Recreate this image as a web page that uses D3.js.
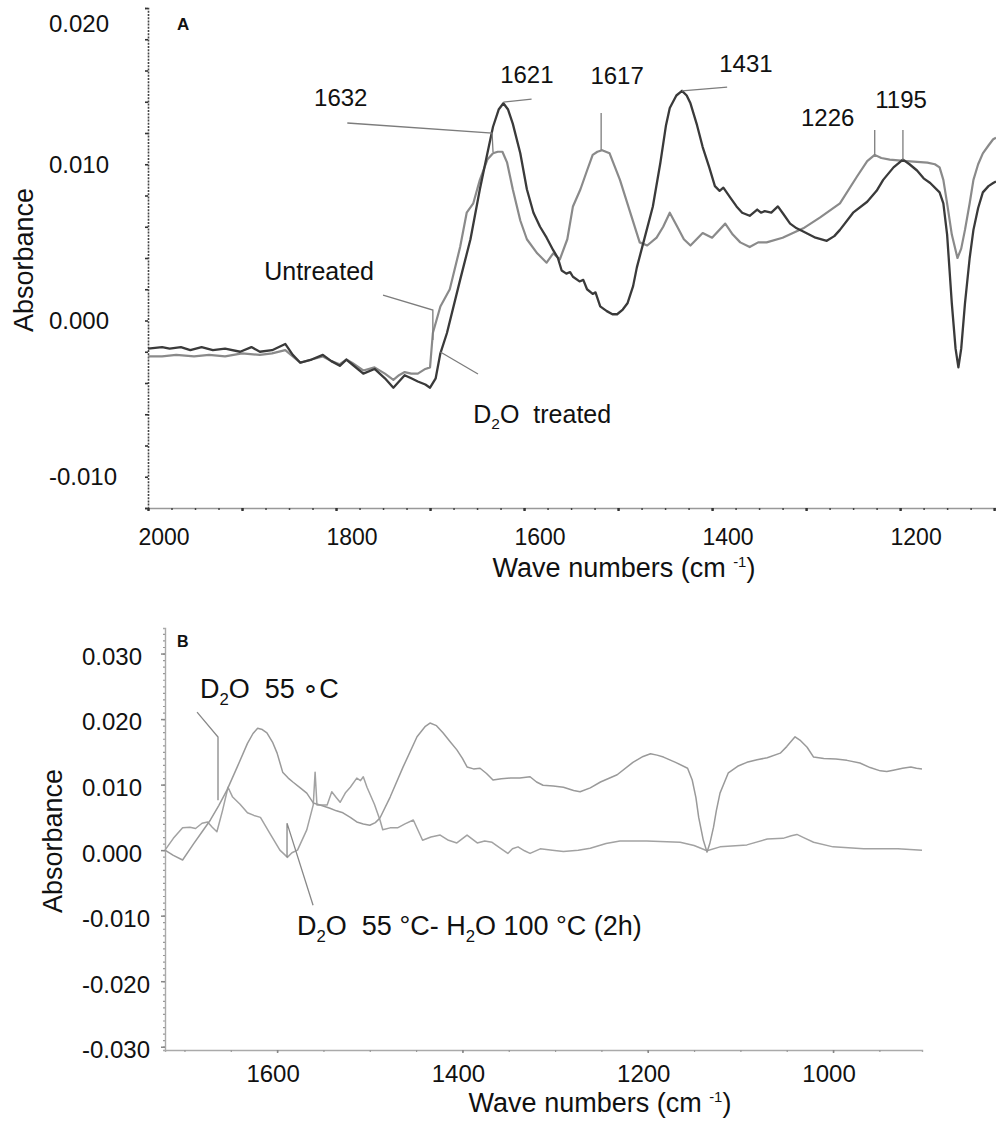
<!DOCTYPE html>
<html>
<head>
<meta charset="utf-8">
<script src="https://cdn.jsdelivr.net/npm/d3@7"></script>
<style>
  body { margin: 0; background: #fff; }
  text { font-family: "Liberation Sans", Arial, sans-serif; fill: #111; white-space: pre; }
</style>
</head>
<body>
<svg id="chart" width="996" height="1121"></svg>
<script>
// ---- panel A data: [wavenumber (cm-1), absorbance] ----
var d2oTreatedA = [[2000,-0.0018],[1985,-0.0017],[1977,-0.0018],[1965,-0.0017],[1955,-0.0019],[1943,-0.0017],[1931,-0.0019],[1918,-0.0018],[1902,-0.0020],[1890,-0.0017],[1881,-0.0020],[1868,-0.0019],[1854,-0.0015],[1846,-0.0022],[1838,-0.0027],[1826,-0.0025],[1814,-0.0022],[1805,-0.0026],[1796,-0.0029],[1789,-0.0025],[1783,-0.0028],[1771,-0.0034],[1759,-0.0031],[1748,-0.0037],[1739,-0.0043],[1733,-0.0039],[1727,-0.0035],[1720,-0.0037],[1713,-0.0039],[1705,-0.0041],[1700,-0.0043],[1694,-0.0037],[1689,-0.0021],[1682,-0.0008],[1668,0.0026],[1657,0.0052],[1647,0.0084],[1639,0.0107],[1633,0.0124],[1627,0.0135],[1622,0.0139],[1617,0.0135],[1612,0.0126],[1604,0.0107],[1597,0.0084],[1590,0.0069],[1583,0.0060],[1576,0.0053],[1569,0.0045],[1564,0.0040],[1560,0.0032],[1555,0.0030],[1551,0.0031],[1548,0.0028],[1541,0.0025],[1537,0.0026],[1533,0.0020],[1527,0.0017],[1524,0.0018],[1519,0.0009],[1512,0.0006],[1506,0.0004],[1501,0.0004],[1495,0.0007],[1490,0.0011],[1484,0.0022],[1480,0.0034],[1473,0.0050],[1463,0.0073],[1455,0.0101],[1449,0.0125],[1445,0.0136],[1438,0.0144],[1432,0.0147],[1427,0.0144],[1423,0.0139],[1416,0.0125],[1410,0.0111],[1403,0.0098],[1397,0.0086],[1392,0.0083],[1388,0.0085],[1381,0.0079],[1374,0.0073],[1368,0.0069],[1360,0.0067],[1352,0.0071],[1348,0.0069],[1344,0.0070],[1337,0.0069],[1330,0.0073],[1324,0.0068],[1317,0.0062],[1310,0.0059],[1303,0.0057],[1290,0.0053],[1278,0.0051],[1270,0.0054],[1264,0.0058],[1250,0.0069],[1235,0.0076],[1225,0.0083],[1218,0.0090],[1207,0.0098],[1197,0.0103],[1190,0.0100],[1182,0.0096],[1175,0.0091],[1168,0.0088],[1158,0.0082],[1154,0.0075],[1150,0.0055],[1145,0.0011],[1141,-0.0018],[1138,-0.0030],[1135,-0.0018],[1131,0.0011],[1126,0.0040],[1122,0.0058],[1117,0.0072],[1112,0.0082],[1106,0.0086],[1101,0.0088],[1098,0.0089]];

var untreatedA = [[2000,-0.0023],[1985,-0.0023],[1970,-0.0022],[1951,-0.0023],[1935,-0.0022],[1918,-0.0023],[1900,-0.0021],[1881,-0.0022],[1868,-0.0021],[1854,-0.0019],[1846,-0.0023],[1838,-0.0027],[1826,-0.0025],[1814,-0.0023],[1805,-0.0026],[1796,-0.0028],[1789,-0.0025],[1783,-0.0027],[1771,-0.0032],[1759,-0.0030],[1748,-0.0034],[1739,-0.0038],[1733,-0.0035],[1727,-0.0033],[1720,-0.0034],[1713,-0.0034],[1705,-0.0031],[1700,-0.0030],[1697,-0.0008],[1689,0.0009],[1679,0.0020],[1668,0.0047],[1661,0.0069],[1654,0.0075],[1647,0.0090],[1639,0.0103],[1633,0.0107],[1628,0.0108],[1623,0.0108],[1618,0.0101],[1612,0.0084],[1604,0.0064],[1597,0.0052],[1586,0.0043],[1576,0.0037],[1569,0.0043],[1562,0.0039],[1554,0.0052],[1548,0.0073],[1540,0.0084],[1533,0.0096],[1527,0.0106],[1522,0.0108],[1517,0.0109],[1509,0.0107],[1498,0.0090],[1487,0.0069],[1477,0.0050],[1469,0.0048],[1459,0.0053],[1452,0.0060],[1445,0.0069],[1437,0.0060],[1430,0.0052],[1423,0.0048],[1410,0.0056],[1400,0.0053],[1386,0.0062],[1378,0.0055],[1370,0.0050],[1360,0.0047],[1351,0.0050],[1342,0.0050],[1325,0.0053],[1303,0.0059],[1285,0.0066],[1264,0.0075],[1246,0.0092],[1235,0.0102],[1227,0.0106],[1220,0.0104],[1211,0.0103],[1193,0.0102],[1171,0.0101],[1163,0.0100],[1158,0.0098],[1154,0.0090],[1150,0.0075],[1145,0.0055],[1139,0.0040],[1135,0.0046],[1131,0.0058],[1126,0.0075],[1122,0.0090],[1117,0.0100],[1112,0.0107],[1106,0.0112],[1101,0.0116],[1098,0.0117]];

// ---- panel B data ----
var d2o55B = [[1721,0.0000],[1712,-0.0008],[1702,-0.0015],[1690,0.0010],[1680,0.0030],[1672,0.0046],[1663,0.0068],[1654,0.0092],[1643,0.0127],[1632,0.0163],[1626,0.0178],[1621,0.0186],[1616,0.0184],[1611,0.0179],[1605,0.0165],[1600,0.0148],[1594,0.0119],[1588,0.0110],[1583,0.0104],[1575,0.0095],[1568,0.0087],[1561,0.0072],[1552,0.0068],[1543,0.0064],[1536,0.0060],[1529,0.0057],[1521,0.0050],[1514,0.0043],[1507,0.0040],[1500,0.0038],[1494,0.0042],[1489,0.0049],[1478,0.0081],[1464,0.0127],[1449,0.0173],[1440,0.0189],[1435,0.0194],[1428,0.0190],[1421,0.0179],[1413,0.0165],[1406,0.0153],[1400,0.0140],[1395,0.0127],[1388,0.0124],[1381,0.0125],[1374,0.0117],[1367,0.0107],[1358,0.0109],[1348,0.0110],[1338,0.0110],[1327,0.0112],[1320,0.0104],[1313,0.0099],[1302,0.0098],[1291,0.0096],[1280,0.0091],[1273,0.0089],[1262,0.0095],[1251,0.0104],[1233,0.0115],[1216,0.0134],[1205,0.0143],[1197,0.0147],[1190,0.0145],[1183,0.0142],[1170,0.0134],[1157,0.0125],[1152,0.0107],[1148,0.0080],[1145,0.0050],[1140,0.0015],[1136,-0.0003],[1133,0.0010],[1129,0.0035],[1126,0.0060],[1122,0.0087],[1113,0.0118],[1103,0.0128],[1093,0.0134],[1082,0.0138],[1071,0.0141],[1057,0.0148],[1050,0.0158],[1041,0.0173],[1035,0.0167],[1028,0.0157],[1021,0.0142],[1010,0.0140],[997,0.0139],[985,0.0137],[971,0.0133],[960,0.0126],[949,0.0121],[942,0.0120],[935,0.0122],[925,0.0125],[916,0.0127],[910,0.0125],[904,0.0124]];

var d2o55h2oB = [[1721,0.0000],[1712,0.0018],[1702,0.0034],[1694,0.0035],[1688,0.0033],[1681,0.0041],[1675,0.0043],[1670,0.0035],[1665,0.0028],[1659,0.0060],[1653,0.0096],[1648,0.0081],[1640,0.0070],[1632,0.0057],[1625,0.0053],[1618,0.0050],[1608,0.0026],[1597,0.0000],[1591,-0.0008],[1589,-0.0011],[1584,-0.0004],[1578,0.0000],[1568,0.0031],[1561,0.0069],[1559,0.0119],[1557,0.0069],[1546,0.0069],[1541,0.0089],[1536,0.0080],[1532,0.0073],[1526,0.0088],[1521,0.0096],[1514,0.0110],[1510,0.0106],[1507,0.0112],[1503,0.0096],[1495,0.0070],[1489,0.0046],[1486,0.0031],[1478,0.0034],[1470,0.0034],[1462,0.0040],[1453,0.0046],[1443,0.0015],[1434,0.0020],[1424,0.0023],[1415,0.0015],[1406,0.0011],[1395,0.0023],[1384,0.0011],[1376,0.0014],[1368,0.0012],[1360,0.0004],[1351,-0.0005],[1346,0.0002],[1340,0.0005],[1333,-0.0001],[1327,-0.0005],[1316,0.0002],[1303,0.0000],[1291,-0.0002],[1275,0.0000],[1262,0.0003],[1245,0.0010],[1230,0.0014],[1201,0.0014],[1165,0.0012],[1150,0.0007],[1136,-0.0001],[1122,0.0005],[1093,0.0008],[1071,0.0017],[1054,0.0018],[1045,0.0022],[1039,0.0024],[1030,0.0018],[1021,0.0012],[1000,0.0005],[967,0.0002],[930,0.0002],[904,0.0000]];

// tick labels
var xTicksA = [2000, 1800, 1600, 1400, 1200];
var yTicksA = [0.020, 0.010, 0.000, -0.010];
var xTicksB = [1600, 1400, 1200, 1000];
var yTicksB = [0.030, 0.020, 0.010, 0.000, -0.010, -0.020, -0.030];

// peak labels in panel A: label anchor + leader line, all in data units
var peaksA = [
  {text: "1632", at: [1795, 0.01373], leader: [[1788, 0.01264], [1634, 0.0120], [1633, 0.01078]]},
  {text: "1621", at: [1597, 0.0152], leader: [[1622, 0.01398], [1592, 0.01417]]},
  {text: "1617", at: [1501, 0.01514], leader: [[1518, 0.01328], [1518, 0.01091]]},
  {text: "1431", at: [1364, 0.0159], leader: [[1432, 0.01469], [1384, 0.01494]]},
  {text: "1226", at: [1277, 0.01245], leader: [[1227, 0.01219], [1227, 0.01059]]},
  {text: "1195", at: [1199, 0.0136], leader: [[1197, 0.01219], [1197, 0.01027]]}
];

var svg = d3.select("#chart");

// helper for labels with subscripts / superscripts: parts = [[text, kind], ...]
function richText(g, x, y, parts, size, anchor) {
  var t = g.append("text").attr("x", x).attr("y", y)
    .attr("font-size", size).attr("text-anchor", anchor || "start");
  parts.forEach(function(p) {
    var s = t.append("tspan").text(p[0]);
    if (p[1] == "sub") s.attr("font-size", size * 0.62).attr("dy", size * 0.25);
    else if (p[1] == "back") s.attr("dy", -size * 0.25);
    if (p[1] == "sup") s.attr("font-size", size * 0.55).attr("dy", -size * 0.38);
    if (p[1] == "unsup") s.attr("dy", size * 0.38);
  });
  return t;
}

function axisTitleX(x, y) {
  richText(svg, x, y, [["Wave numbers (cm ", ""], ["-1", "sup"], [")", "unsup"]], 27, "middle");
}

function axisTitleY(x, y) {
  svg.append("text").attr("transform", "translate(" + x + "," + y + ") rotate(-90)")
    .attr("text-anchor", "middle").attr("font-size", 27).text("Absorbance");
}

/* ================= Panel A ================= */
var xA = d3.scaleLinear().domain([2000, 1098]).range([148, 996]);
var yA = d3.scaleLinear().domain([-0.012, 0.020]).range([508, 8]);

var gA = svg.append("g");

// y axis: dark dotted look from dense little ticks
gA.append("g").attr("transform", "translate(" + xA(2000) + ",0)")
  .call(d3.axisLeft(yA).tickValues(d3.range(-0.012, 0.0201, 0.002)).tickSize(3).tickFormat(""))
  .call(function(g) {
    g.select(".domain").attr("stroke", "#444").attr("stroke-width", 1.6).attr("stroke-dasharray", "2,1.2");
    g.selectAll(".tick line").attr("stroke", "#333").attr("stroke-width", 1.6);
  });

// x axis
gA.append("g").attr("transform", "translate(0," + yA(-0.012) + ")")
  .call(d3.axisBottom(xA).tickValues(d3.range(2000, 1099, -25)).tickSize(2).tickFormat(""))
  .call(function(g) {
    g.select(".domain").attr("stroke", "#999").attr("stroke-width", 1.5);
    g.selectAll(".tick line").attr("stroke", "#444").attr("stroke-width", 1.5);
  });
gA.append("g").attr("transform", "translate(0," + yA(-0.012) + ")")
  .call(d3.axisBottom(xA).tickValues(d3.range(2000, 1099, -100)).tickSize(3).tickFormat(""))
  .call(function(g) {
    g.select(".domain").remove();
    g.selectAll(".tick line").attr("stroke", "#333").attr("stroke-width", 2.4);
  });

// top label sits a little below the axis end so it is not cut by the edge
gA.selectAll(".ylabA").data(yTicksA).join("text")
  .attr("x", 49).attr("y", function(d) { return Math.max(yA(d), 24); }).attr("dy", "0.35em")
  .attr("font-size", 24).text(function(d) { return d.toFixed(3); });

gA.selectAll(".xlabA").data(xTicksA).join("text")
  .attr("x", function(d) { return xA(d) + 16; }).attr("y", 545)
  .attr("text-anchor", "middle").attr("font-size", 23).text(function(d) { return d; });

axisTitleX(624, 577);
axisTitleY(33, 260);

gA.append("text").attr("x", 177).attr("y", 30).attr("font-size", 17)
  .attr("font-weight", "bold").text("A");

var lineA = d3.line().x(function(d) { return xA(d[0]); }).y(function(d) { return yA(d[1]); });

gA.append("path").datum(untreatedA).attr("d", lineA)
  .attr("fill", "none").attr("stroke", "#8a8a8a").attr("stroke-width", 2.2).attr("stroke-linejoin", "round");
gA.append("path").datum(d2oTreatedA).attr("d", lineA)
  .attr("fill", "none").attr("stroke", "#3a3a3a").attr("stroke-width", 2.3).attr("stroke-linejoin", "round");

// leaders + peak labels
peaksA.forEach(function(p) {
  gA.append("path").datum(p.leader).attr("d", lineA)
    .attr("fill", "none").attr("stroke", "#7c7c7c").attr("stroke-width", 1.3);
  gA.append("text").attr("x", xA(p.at[0])).attr("y", yA(p.at[1]))
    .attr("text-anchor", "middle").attr("font-size", 24).text(p.text);
});

gA.append("path").datum([[1750, 0.00163], [1697, 0.00067], [1697, -0.00125]]).attr("d", lineA)
  .attr("fill", "none").attr("stroke", "#7c7c7c").attr("stroke-width", 1.3);
gA.append("text").attr("x", xA(1818)).attr("y", yA(0.00259))
  .attr("text-anchor", "middle").attr("font-size", 25).text("Untreated");

gA.append("path").datum([[1689, -0.00202], [1649, -0.00342]]).attr("d", lineA)
  .attr("fill", "none").attr("stroke", "#7c7c7c").attr("stroke-width", 1.3);
richText(gA, xA(1654), yA(-0.00656), [["D", ""], ["2", "sub"], ["O  treated", "back"]], 25);

/* ================= Panel B ================= */
var xB = d3.scaleLinear().domain([1721, 904]).range([165, 922]);
var yB = d3.scaleLinear().domain([-0.0305, 0.0339]).range([1050, 628]);

var gB = svg.append("g");

gB.append("g").attr("transform", "translate(" + xB(1721) + ",0)")
  .call(d3.axisLeft(yB).tickValues(d3.range(-0.030, 0.0335, 0.001)).tickSize(2).tickFormat(""))
  .call(function(g) {
    g.select(".domain").attr("stroke", "#aaa").attr("stroke-width", 1.4);
    g.selectAll(".tick line").attr("stroke", "#999").attr("stroke-width", 1.2);
  });
gB.append("g").attr("transform", "translate(" + xB(1721) + ",0)")
  .call(d3.axisLeft(yB).tickValues(yTicksB).tickSize(4).tickFormat(""))
  .call(function(g) {
    g.select(".domain").remove();
    g.selectAll(".tick line").attr("stroke", "#888").attr("stroke-width", 1.5);
  });

gB.append("g").attr("transform", "translate(0," + yB(-0.0305) + ")")
  .call(d3.axisBottom(xB).tickValues(d3.range(1700, 904, -50)).tickSize(2).tickFormat(""))
  .call(function(g) {
    g.select(".domain").attr("stroke", "#aaa").attr("stroke-width", 1.4);
    g.selectAll(".tick line").attr("stroke", "#999").attr("stroke-width", 1.2);
  });
gB.append("g").attr("transform", "translate(0," + yB(-0.0305) + ")")
  .call(d3.axisBottom(xB).tickValues(xTicksB).tickSize(3).tickFormat(""))
  .call(function(g) {
    g.select(".domain").remove();
    g.selectAll(".tick line").attr("stroke", "#888").attr("stroke-width", 1.6);
  });

gB.selectAll(".ylabB").data(yTicksB).join("text")
  .attr("x", 82).attr("y", function(d) { return yB(d) + 3; }).attr("dy", "0.35em")
  .attr("font-size", 24).text(function(d) { return d.toFixed(3); });

gB.selectAll(".xlabB").data(xTicksB).join("text")
  .attr("x", function(d) { return xB(d) - 4; }).attr("y", 1082)
  .attr("text-anchor", "middle").attr("font-size", 24).text(function(d) { return d; });

axisTitleX(600, 1112);
axisTitleY(62, 841);

gB.append("text").attr("x", 177).attr("y", 647).attr("font-size", 16)
  .attr("font-weight", "bold").text("B");

var lineB = d3.line().x(function(d) { return xB(d[0]); }).y(function(d) { return yB(d[1]); });

gB.append("path").datum(d2o55h2oB).attr("d", lineB)
  .attr("fill", "none").attr("stroke", "#a2a2a2").attr("stroke-width", 1.5).attr("stroke-linejoin", "round");
gB.append("path").datum(d2o55B).attr("d", lineB)
  .attr("fill", "none").attr("stroke", "#9a9a9a").attr("stroke-width", 1.5).attr("stroke-linejoin", "round");

gB.append("path").datum([[1686.4, 0.02107], [1663.8, 0.01725], [1663.8, 0.00763]]).attr("d", lineB)
  .attr("fill", "none").attr("stroke", "#888").attr("stroke-width", 1.3);
richText(gB, xB(1683.2), yB(0.0232), [["D", ""], ["2", "sub"], ["O  55 \u2218C", "back"]], 27);

gB.append("path").datum([[1561.2, -0.0084], [1589.3, 0.00412], [1589.3, -0.00107]]).attr("d", lineB)
  .attr("fill", "none").attr("stroke", "#888").attr("stroke-width", 1.3);
richText(gB, xB(1578.5), yB(-0.01298),
  [["D", ""], ["2", "sub"], ["O  55 \u00b0C- H", "back"], ["2", "sub"], ["O 100 \u00b0C (2h)", "back"]], 27);
</script>
</body>
</html>
